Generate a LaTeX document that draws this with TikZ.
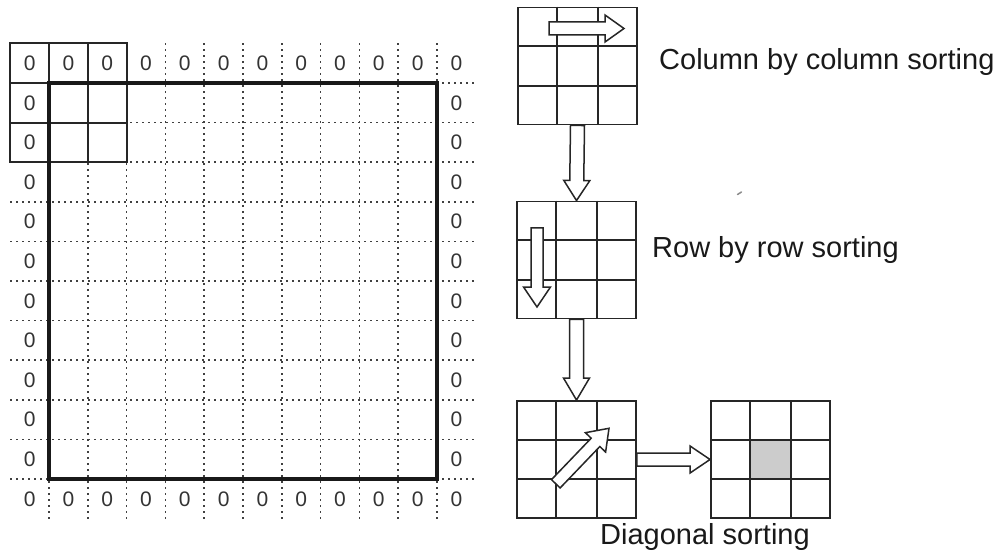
\documentclass[tikz,border=0pt]{standalone}
\usepackage{fontspec}
\setmainfont{Liberation Sans}
\usetikzlibrary{calc}
\newcommand{\blockarr}[5]{% from, to, half shaft, half head, head length
  \coordinate (ba-h) at ($(#2)!#5!(#1)$);
  \draw[blockarrow] ($(#1)!#3!90:(#2)$) -- ($(ba-h)!#3!90:(#2)$) -- ($(ba-h)!#4!90:(#2)$)
    -- (#2) -- ($(ba-h)!#4!-90:(#2)$) -- ($(ba-h)!#3!-90:(#2)$) -- ($(#1)!#3!-90:(#2)$) -- cycle;
}
\newcommand{\cellbox}[2]{% name, center
  \node[sbox] (#1) at (#2) {};
  \foreach \k in {1,2}{
    \draw[cellgrid] ($(#1.north west)!\k/3!(#1.north east)$) -- ($(#1.south west)!\k/3!(#1.south east)$);
    \draw[cellgrid] ($(#1.north west)!\k/3!(#1.south west)$) -- ($(#1.north east)!\k/3!(#1.south east)$);
  }
}
\begin{document}
\begin{tikzpicture}[x=1pt,y=-1pt,
  cellgrid/.style={line width=1.9pt, black!85},
  sbox/.style={draw=black!85, line width=1.9pt, minimum width=119pt, minimum height=117pt, inner sep=0pt},
  dotgrid/.style={line width=1.7pt, dash pattern=on 1.5pt off 4.5pt, line cap=butt, black!75},
  thickline/.style={line width=3.8pt, black!90},
  blockarrow/.style={draw=black!85, line width=1.5pt, fill=white, line join=miter},
  zero/.style={font=\fontsize{21}{21}\selectfont, text=black!80, inner sep=0pt},
  caption/.style={font=\fontsize{29}{29}\selectfont, text=black!90, inner sep=0pt}]
\useasboundingbox (0,0) rectangle (999,556);
\def\xs{38.8}\def\xo{10.2}
\def\ys{39.6}\def\yo{43.4}
% dotted grid
\foreach \i in {1,...,11}{
  \draw[dotgrid] ({\xo+\i*\xs},\yo) -- ({\xo+\i*\xs},{\yo+12*\ys});
  \draw[dotgrid] (\xo,{\yo+\i*\ys}) -- ({\xo+12*\xs},{\yo+\i*\ys});
}
% zeros
\foreach \i in {0,...,11}{
  \node[zero] at ({\xo+(\i+0.5)*\xs},{\yo+0.5*\ys}) {0};
  \node[zero] at ({\xo+(\i+0.5)*\xs},{\yo+11.5*\ys}) {0};
}
\foreach \j in {1,...,10}{
  \node[zero] at ({\xo+0.5*\xs},{\yo+(\j+0.5)*\ys}) {0};
  \node[zero] at ({\xo+11.5*\xs},{\yo+(\j+0.5)*\ys}) {0};
}
% solid 3x3 window
\draw[cellgrid] (\xo,\yo) rectangle ({\xo+3*\xs},{\yo+3*\ys});
\foreach \k in {1,2}{
  \draw[cellgrid] ({\xo+\k*\xs},\yo) -- ({\xo+\k*\xs},{\yo+3*\ys});
  \draw[cellgrid] (\xo,{\yo+\k*\ys}) -- ({\xo+3*\xs},{\yo+\k*\ys});
}
\draw[thickline] ({\xo+\xs},{\yo+\ys}) rectangle ({\xo+11*\xs},{\yo+11*\ys});
% right side boxes
\cellbox{box1}{577.5,66}
\cellbox{box2}{576.5,260}
\cellbox{box3}{576.5,459.5}
\cellbox{box4}{770.5,459.5}
\fill[black!20] ($(box4.north west)!1/3!(box4.south east)$) rectangle ($(box4.north west)!2/3!(box4.south east)$);
\draw[cellgrid] ($(box4.north west)!1/3!(box4.south east)$) rectangle ($(box4.north west)!2/3!(box4.south east)$);
% arrows inside boxes
\coordinate (a1s) at (549,28.5); \coordinate (a1e) at (624,28.5);
\coordinate (a2s) at (537,228);  \coordinate (a2e) at (537,307);
\coordinate (a3s) at (555.8,483.8); \coordinate (a3e) at (609,428.3);
\blockarr{a1s}{a1e}{6.5pt}{13.5pt}{19pt}
\blockarr{a2s}{a2e}{6pt}{13.5pt}{20pt}
\blockarr{a3s}{a3e}{6pt}{14pt}{19.5pt}
% arrows between boxes
\blockarr{box1.south}{box2.north}{7pt}{13pt}{20pt}
\blockarr{box2.south}{box3.north}{7pt}{13pt}{22pt}
\blockarr{box3.east}{box4.west}{6.5pt}{13.5pt}{20pt}
% captions
\node[caption, anchor=base west] (t1) at (659,70) {Column by column sorting};
\node[caption, anchor=base west] (t2) at (652,258) {Row by row sorting};
\node[caption, anchor=base] (t3) at (705,544) {Diagonal sorting};
% stray mark
\draw[black!45, line width=1.5pt, line cap=round] (737.5,194.5) -- (741.5,192);
\end{tikzpicture}
\end{document}
